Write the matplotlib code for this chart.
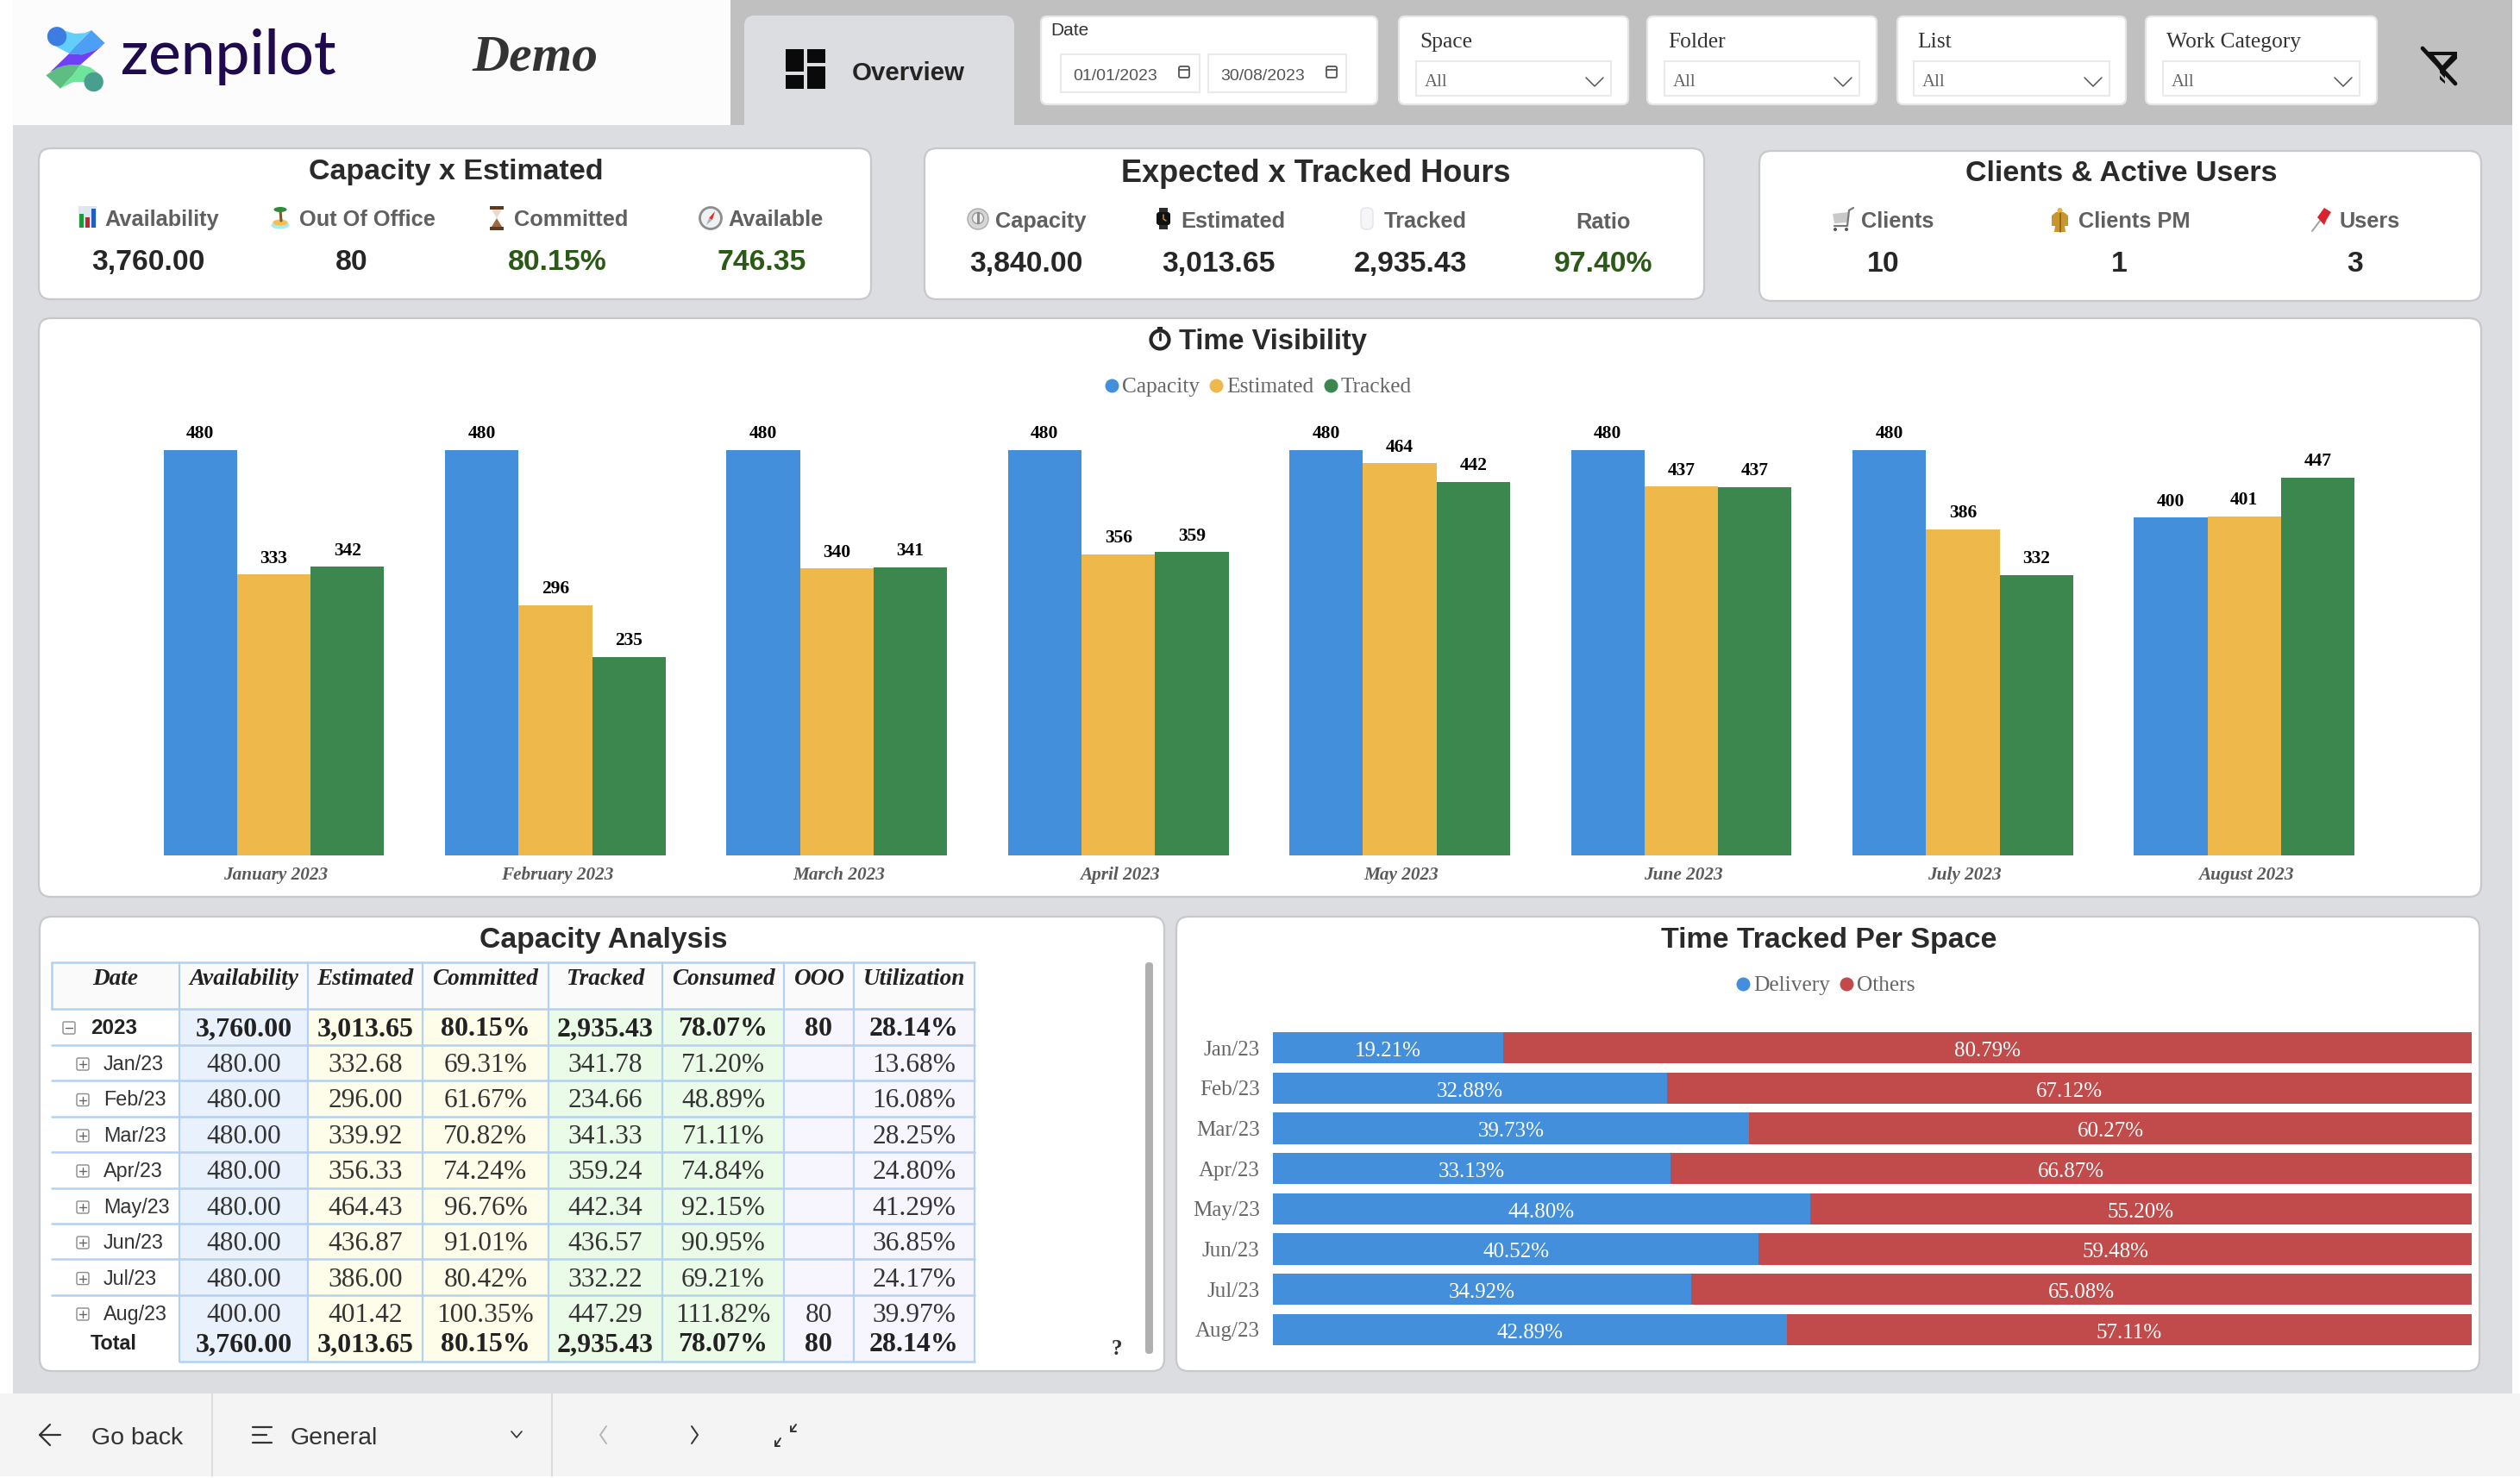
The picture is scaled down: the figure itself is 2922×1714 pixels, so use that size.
import matplotlib
matplotlib.use("Agg")
import matplotlib.pyplot as plt
from matplotlib.patches import FancyBboxPatch, Rectangle, Circle, Polygon, Ellipse
from matplotlib.lines import Line2D
from matplotlib.transforms import ScaledTranslation

W, H = 2922, 1714
SERIF = "Liberation Serif"
SANS = "Liberation Sans"

# ---------- data ----------
months_long = ["January 2023", "February 2023", "March 2023", "April 2023",
               "May 2023", "June 2023", "July 2023", "August 2023"]
months_short = ["Jan/23", "Feb/23", "Mar/23", "Apr/23", "May/23", "Jun/23", "Jul/23", "Aug/23"]
capacity = [480.00, 480.00, 480.00, 480.00, 480.00, 480.00, 480.00, 400.00]
estimated = [332.68, 296.00, 339.92, 356.33, 464.43, 436.87, 386.00, 401.42]
tracked = [341.78, 234.66, 341.33, 359.24, 442.34, 436.57, 332.22, 447.29]
delivery_pct = [19.21, 32.88, 39.73, 33.13, 44.80, 40.52, 34.92, 42.89]
others_pct = [80.79, 67.12, 60.27, 66.87, 55.20, 59.48, 65.08, 57.11]

table_head = ["Date", "Availability", "Estimated", "Committed", "Tracked", "Consumed", "OOO", "Utilization"]
tbl_avail = ["480.00"] * 7 + ["400.00"]
tbl_est = ["332.68", "296.00", "339.92", "356.33", "464.43", "436.87", "386.00", "401.42"]
tbl_comm = ["69.31%", "61.67%", "70.82%", "74.24%", "96.76%", "91.01%", "80.42%", "100.35%"]
tbl_track = ["341.78", "234.66", "341.33", "359.24", "442.34", "436.57", "332.22", "447.29"]
tbl_cons = ["71.20%", "48.89%", "71.11%", "74.84%", "92.15%", "90.95%", "69.21%", "111.82%"]
tbl_ooo = ["", "", "", "", "", "", "", "80"]
tbl_util = ["13.68%", "16.08%", "28.25%", "24.80%", "41.29%", "36.85%", "24.17%", "39.97%"]
tbl_total = ["3,760.00", "3,013.65", "80.15%", "2,935.43", "78.07%", "80", "28.14%"]

# ---------- colours ----------
BLUE, ORANGE, GREEN, RED = "#438fdc", "#efb84b", "#3b874d", "#c14a4a"
BG = "#dcdde0"
TITLE = "#2a2a2a"
LABEL = "#606060"
VALUE = "#262626"
POS = "#2b5a16"
GRID = "#b3d1f3"

fig = plt.figure(figsize=(W / 100, H / 100), dpi=100, facecolor="white")
ov = fig.add_axes([0, 0, 1, 1], zorder=0)
ov.set_xlim(0, W)
ov.set_ylim(H, 0)
ov.axis("off")


def T(x, y, s, size, color="#222222", ha="center", family=SANS, weight="normal", style="normal", z=8):
    return ov.text(x, y, s, fontsize=size, color=color, ha=ha, va="center_baseline",
                   family=family, weight=weight, style=style, zorder=z)


def rect(x0, y0, x1, y1, fc, z=1, ec="none", lw=0):
    ov.add_patch(Rectangle((x0, y0), x1 - x0, y1 - y0, fc=fc, ec=ec, lw=lw, zorder=z))


def card(x0, y0, x1, y1, r=14, fc="white", ec="#c8c8ca", lw=1.6, z=2):
    ov.add_patch(FancyBboxPatch((x0, y0), x1 - x0, y1 - y0, boxstyle=f"round,pad=0,rounding_size={r}",
                                fc=fc, ec=ec, lw=lw, zorder=z))


def line(xs, ys, c="#333333", lw=1.5, z=6):
    ov.add_line(Line2D(xs, ys, color=c, lw=lw, zorder=z, solid_capstyle="round"))


def poly(pts, fc, z=6, alpha=1.0):
    ov.add_patch(Polygon(pts, closed=True, fc=fc, ec="none", zorder=z, alpha=alpha))


# ---------- page frame ----------
rect(15, 145, 2913, 1616, BG, z=0.5)
rect(15, 0, 847, 145, "#fcfcfc", z=1)
rect(847, 0, 2913, 145, "#c0c0c0", z=1)
ov.add_patch(FancyBboxPatch((863, 18), 313, 147, boxstyle="round,pad=0,rounding_size=12", fc=BG, ec="none", zorder=1.5))
rect(0, 1616, W, 1712, "#f4f4f4", z=1)
line([245.5, 245.5], [1616, 1712], "#d8d8d8", 1.2)
line([640, 640], [1616, 1712], "#d8d8d8", 1.2)

# ---------- logo ----------
def lg(pts):
    return [(30 + a / 3, 15 + b / 3) for a, b in pts]

poly(lg([(108, 50), (135, 62), (170, 72), (205, 70), (228, 60), (180, 108), (155, 143), (110, 120), (85, 100)]), "#62cffb")
poly(lg([(228, 60), (275, 105), (240, 130), (195, 145), (150, 142), (180, 108)]), "#4d9ff6", z=6.1)
poly(lg([(150, 142), (195, 145), (240, 130), (272, 108), (190, 180), (130, 185), (85, 205)]), "#7040f5", z=6.2)
poly(lg([(70, 217), (110, 190), (150, 180), (190, 180), (165, 215), (120, 263)]), "#5dbd83", z=6.3)
poly(lg([(190, 180), (225, 190), (255, 212), (240, 250), (205, 240), (165, 240), (120, 263), (165, 215)]), "#6ee59a", z=6.3)
ov.add_patch(Circle((30 + 108 / 3, 15 + 82 / 3), 11.2, fc="#3b7de0", ec="none", zorder=6.5))
ov.add_patch(Circle((30 + 236 / 3, 15 + 240 / 3), 11.2, fc="#47a08e", ec="none", zorder=6.5))
ov.text(140, 86, "zenpilot", fontsize=51, color="#1f0a4d", family="Lato", weight="medium", ha="left", va="baseline", zorder=7)
T(620, 61, "Demo", 43, "#333333", family=SERIF, style="italic", weight="bold")

# ---------- overview tab ----------
for x0, y0, x1, y1 in [(911, 57, 932, 83), (911, 87, 932, 103), (936, 57, 957, 73), (936, 77, 957, 103)]:
    rect(x0, y0, x1, y1, "#0a0a0a", z=6)
T(988, 82, "Overview", 21.2, "#252423", ha="left", weight="bold")

# ---------- slicers ----------
card(1207, 19, 1597, 121, r=7, ec="#e6e6e6")
T(1218, 33, "Date", 15, "#333333", ha="left")
for x0, x1, s, icx in [(1230, 1391, "01/01/2023", 1373), (1401, 1561, "30/08/2023", 1544)]:
    ov.add_patch(Rectangle((x0, 63), x1 - x0, 44, fc="white", ec="#eaeaea", lw=1.5, zorder=3))
    T(x0 + 14, 86, s, 14, "#555555", ha="left")
    ov.add_patch(FancyBboxPatch((icx - 6, 77), 12, 13, boxstyle="round,pad=0,rounding_size=2", fc="white", ec="#555555", lw=1.3, zorder=6))
    line([icx - 6, icx + 6], [81, 81], "#555555", 1.3)

slicers = [("Space", 1622, 1888, 1642, 1868), ("Folder", 1910, 2176, 1930, 2156),
           ("List", 2200, 2465, 2219, 2446), ("Work Category", 2488, 2756, 2508, 2736)]
for name, c0, c1, b0, b1 in slicers:
    card(c0, 19, c1, 121, r=7, ec="#e6e6e6")
    T(b0 + 4, 46, name, 18.4, "#333333", ha="left", family=SERIF)
    ov.add_patch(Rectangle((b0, 71), b1 - b0, 40, fc="white", ec="#eaeaea", lw=1.5, zorder=3))
    T(b0 + 10, 93, "All", 15, "#666666", ha="left", family=SERIF)
    line([b1 - 29, b1 - 19, b1 - 9], [90, 100, 90], "#555555", 1.1)

# clear-filter icon
poly([(2815, 60), (2849, 60), (2849, 68), (2835, 82), (2835, 97), (2829, 92), (2829, 82)], "#111111")
poly([(2822, 64), (2843, 64), (2832, 76)], "#c0c0c0", z=6.1)
line([2809, 2847], [56, 97], "#111111", 3.4, z=6.2)
line([2805, 2843], [60, 101], "#c0c0c0", 1.6, z=6.2)

# ---------- KPI icons ----------
def ic_chart(x, y):
    rect(x, y, x + 21, y + 25, "#dfe6ef", z=6)
    rect(x + 1, y + 9, x + 6, y + 25, "#1d9a3a", z=6.1)
    rect(x + 8, y + 13, x + 13, y + 25, "#c8232c", z=6.1)
    rect(x + 15, y + 3, x + 20, y + 25, "#1f5fc4", z=6.1)

def ic_island(x, y):
    ov.add_patch(Ellipse((x + 10, y + 22), 21, 9, fc="#a7ecef", ec="none", zorder=6))
    ov.add_patch(Ellipse((x + 10, y + 19), 17, 7, fc="#f6bd55", ec="none", zorder=6.1))
    line([x + 10, x + 11], [y + 5, y + 17], "#7a5a2a", 2.2, z=6.2)
    ov.add_patch(Ellipse((x + 10, y + 4), 15, 6, fc="#2f8a3a", ec="none", zorder=6.3))

def ic_hourglass(x, y):
    rect(x + 2, y, x + 18, y + 4, "#5c3a22", z=6.2)
    rect(x + 2, y + 24, x + 18, y + 28, "#5c3a22", z=6.2)
    poly([(x + 4, y + 4), (x + 16, y + 4), (x + 10, y + 14)], "#e6dccb")
    poly([(x + 10, y + 14), (x + 16, y + 24), (x + 4, y + 24)], "#9a6a42")

def ic_compass(x, y):
    ov.add_patch(Circle((x + 13, y + 14), 12.5, fc="#eef1f4", ec="#8c8c8c", lw=2, zorder=6))
    poly([(x + 18, y + 6), (x + 15, y + 16), (x + 11, y + 14)], "#d9302a", z=6.2)
    poly([(x + 8, y + 22), (x + 11, y + 14), (x + 15, y + 16)], "#b0b0b0", z=6.2)

def ic_timer(x, y):
    ov.add_patch(Circle((x + 12, y + 13), 12, fc="#d6d6d6", ec="#aaaaaa", lw=1, zorder=6))
    ov.add_patch(Circle((x + 12, y + 12), 6.5, fc="#efefef", ec="#9a9a9a", lw=1, zorder=6.1))
    rect(x + 10.5, y + 5, x + 13.5, y + 19, "#8a8a8a", z=6.2)

def ic_watch(x, y):
    rect(x + 3, y, x + 13, y + 25, "#2c2c2c", z=6)
    ov.add_patch(FancyBboxPatch((x, y + 5), 16, 15, boxstyle="round,pad=0,rounding_size=3", fc="#111111", ec="none", zorder=6.1))
    line([x + 8, x + 8, x + 11], [y + 8, y + 13, y + 15], "#d99a2b", 1, z=6.2)

def ic_mouse(x, y):
    ov.add_patch(FancyBboxPatch((x, y), 14, 25, boxstyle="round,pad=0,rounding_size=6", fc="#f6f6f9", ec="#e3e4ea", lw=1, zorder=6))

def ic_cart(x, y):
    poly([(x + 1, y + 7), (x + 19, y + 5), (x + 18, y + 17), (x + 3, y + 18)], "#c9c9c9")
    line([x + 25, x + 20, x + 18, x + 3], [y, y + 3, y + 21, y + 21], "#777777", 1.6)
    ov.add_patch(Circle((x + 4, y + 25), 2, fc="#555555", ec="none", zorder=6.2))
    ov.add_patch(Circle((x + 17, y + 25), 2, fc="#555555", ec="none", zorder=6.2))

def ic_robe(x, y):
    poly([(x + 5, y + 5), (x + 14, y + 5), (x + 19, y + 9), (x + 19, y + 21), (x + 15, y + 21), (x + 16, y + 28),
          (x + 3, y + 28), (x + 4, y + 21), (x + 0, y + 21), (x + 0, y + 9)], "#c9962e")
    ov.add_patch(Circle((x + 9.5, y + 3), 3, fc="#e4b34b", ec="none", zorder=6.1))
    line([x + 9.5, x + 9.5], [y + 6, y + 28], "#8a6118", 1.2, z=6.2)

def ic_pin(x, y):
    line([x, x + 9], [y + 27, y + 15], "#a0a0a0", 1.4)
    poly([(x + 6, y + 11), (x + 14, y), (x + 22, y + 5), (x + 17, y + 13), (x + 14, y + 20)], "#d9232e", z=6.2)

def ic_stopwatch(x, y):
    ov.add_patch(Circle((x, y + 1), 10.5, fc="white", ec="#262626", lw=3, zorder=8))
    rect(x - 3, y - 14, x + 3, y - 10, "#262626", z=8)
    line([x, x], [y - 6, y + 1], "#262626", 2, z=8.1)

# ---------- KPI cards ----------
card(45, 172, 1010, 347)
card(1072, 172, 1976, 347)
card(2040, 175, 2877, 349)
T(529, 196, "Capacity x Estimated", 24.5, TITLE, weight="bold")
T(1526, 197, "Expected x Tracked Hours", 26, TITLE, weight="bold")
T(2460, 198, "Clients & Active Users", 24.5, TITLE, weight="bold")

LS = 18.3
ic_chart(91, 239)
T(121, 252, "Availability", LS, LABEL, ha="left", weight="bold")
T(172, 301, "3,760.00", 24.3, VALUE, weight="bold")
ic_island(315, 239)
T(347, 252, "Out Of Office", LS, LABEL, ha="left", weight="bold")
T(408, 301, "80", 24.3, VALUE, weight="bold")
ic_hourglass(566, 239)
T(596, 252, "Committed", LS, LABEL, ha="left", weight="bold")
T(646, 301, "80.15%", 24.3, POS, weight="bold")
ic_compass(811, 239)
T(844, 252, "Available", LS, LABEL, ha="left", weight="bold")
T(883, 301, "746.35", 24.3, POS, weight="bold")

ic_timer(1122, 241)
T(1154, 254, "Capacity", LS, LABEL, ha="left", weight="bold")
T(1190, 303, "3,840.00", 24.3, VALUE, weight="bold")
ic_watch(1341, 241)
T(1369, 254, "Estimated", LS, LABEL, ha="left", weight="bold")
T(1413, 303, "3,013.65", 24.3, VALUE, weight="bold")
ic_mouse(1578, 241)
T(1605, 254, "Tracked", LS, LABEL, ha="left", weight="bold")
T(1636, 303, "2,935.43", 24.3, VALUE, weight="bold")
T(1859, 255, "Ratio", LS, LABEL, weight="bold")
T(1859, 303, "97.40%", 24.3, POS, weight="bold")

ic_cart(2124, 241)
T(2158, 254, "Clients", LS, LABEL, ha="left", weight="bold")
T(2184, 303, "10", 24.3, VALUE, weight="bold")
ic_robe(2379, 241)
T(2409.5, 254, "Clients PM", LS, LABEL, ha="left", weight="bold")
T(2457, 303, "1", 24.3, VALUE, weight="bold")
ic_pin(2681, 241)
T(2712, 254, "Users", LS, LABEL, ha="left", weight="bold")
T(2731, 303, "3", 24.3, VALUE, weight="bold")

# ---------- Time Visibility ----------
card(45, 369, 2877, 1040)
card(46, 1063, 1350, 1590)
card(1364, 1063, 2875, 1590)
ic_stopwatch(1345, 393)
T(1367, 393, "Time Visibility", 23.5, TITLE, ha="left", weight="bold")


def px_axes(x0, y0, x1, y1):
    ax = fig.add_axes([x0 / W, 1 - y1 / H, (x1 - x0) / W, (y1 - y0) / H], zorder=3)
    ax.patch.set_alpha(0)
    for s in ax.spines.values():
        s.set_visible(False)
    return ax


def dot_legend(items, anchor):
    handles = [Line2D([], [], ls="", marker="o", ms=11.5, mfc=c, mec=c, mew=0, label=n) for n, c in items]
    fig.legend(handles=handles, ncol=len(items), loc="center", bbox_to_anchor=anchor,
               bbox_transform=ov.transData, frameon=False,
               prop={"family": SERIF, "size": 18.3}, labelcolor="#666666",
               handlelength=0.6, handletextpad=0.18, columnspacing=0.45, borderpad=0, borderaxespad=0)


PITCH = 326.4
ax1 = px_axes(154.3, 470, 154.3 + 8 * PITCH, 991.7)
series = [("Capacity", capacity, BLUE), ("Estimated", estimated, ORANGE), ("Tracked", tracked, GREEN)]
bw = 85.3 / PITCH
for k, (name, vals, col) in enumerate(series):
    offs = [i + (k - 1) * bw for i in range(len(vals))]
    bars = ax1.bar(offs, vals, width=bw, color=col, label=name, linewidth=0)
    for b, v in zip(bars, vals):
        ax1.annotate(f"{v:.0f}", (b.get_x() + b.get_width() / 2, v), xytext=(0, 15.2), textcoords="offset points",
                     ha="center", va="center_baseline", fontsize=15.5, weight="bold", family=SERIF, color="black")
ax1.set_xlim(-0.5, 7.5)
ax1.set_ylim(0, 533.2)
ax1.set_yticks([])
ax1.set_xticks(range(8))
ax1.set_xticklabels(months_long, family=SERIF, weight="bold", style="italic", fontsize=15.3, color="#5a5a5a")
ax1.tick_params(axis="x", length=0, pad=9.4)
for lab in ax1.get_xticklabels():
    lab.set_transform(lab.get_transform() + ScaledTranslation(2 / 100, 0, fig.dpi_scale_trans))
dot_legend([(n, c) for n, _, c in series], (1459, 449))

# ---------- Time Tracked Per Space ----------
T(2121, 1087, "Time Tracked Per Space", 24.4, TITLE, weight="bold")
ax2 = px_axes(1476, 1192, 2866, 1565)
ypos = list(range(8))
ax2.barh(ypos, delivery_pct, height=0.78, color=BLUE, linewidth=0, label="Delivery")
ax2.barh(ypos, others_pct, left=delivery_pct, height=0.78, color=RED, linewidth=0, label="Others")
for i, (d, o) in enumerate(zip(delivery_pct, others_pct)):
    ax2.text(d / 2, i + 0.03, f"{d:.2f}%", color="white", family=SERIF, fontsize=18, ha="center", va="center_baseline")
    ax2.text(d + o / 2, i + 0.03, f"{o:.2f}%", color="white", family=SERIF, fontsize=18, ha="center", va="center_baseline")
ax2.set_xlim(0, 100)
ax2.set_ylim(7.5, -0.5)
ax2.set_xticks([])
ax2.set_yticks(ypos)
ax2.set_yticklabels(months_short, family=SERIF, fontsize=18, color="#666666")
ax2.tick_params(axis="y", length=0, pad=11)
dot_legend([("Delivery", BLUE), ("Others", RED)], (2117, 1143))

# ---------- Capacity Analysis table ----------
T(700, 1086.5, "Capacity Analysis", 24.3, TITLE, weight="bold")
col_x = [60, 208, 357, 490, 636, 768, 909, 990, 1130]
col_fill = ["white", "#e9f1fd", "#fdfde9", "#fdfde9", "#eafbe7", "#eafbe7", "#f7f5fe", "#f7f5fe"]
row_lines = [1170, 1212, 1253, 1295, 1336, 1378, 1419, 1460, 1502, 1578.6]
row_text_y = [1232, 1273.5, 1315, 1356, 1398, 1439, 1480.6, 1522]
top_y, body_top, bottom_y = 1116, 1170, 1578.6

rect(col_x[0], top_y, col_x[-1], body_top, "#fafafa", z=3)
for j in range(1, 8):
    rect(col_x[j], body_top, col_x[j + 1], bottom_y, col_fill[j], z=3)
for yy in row_lines[:-1]:
    line([col_x[0], col_x[-1]], [yy, yy], GRID, 1.8, z=4)
line([col_x[1], col_x[-1]], [bottom_y, bottom_y], GRID, 1.8, z=4)
line([col_x[0], col_x[-1]], [top_y, top_y], GRID, 1.8, z=4)
line([col_x[0], col_x[0]], [top_y, body_top], GRID, 1.8, z=4)
for j in range(1, 9):
    line([col_x[j], col_x[j]], [top_y, bottom_y], GRID, 1.6, z=4)

centers = [(col_x[j] + col_x[j + 1]) / 2 for j in range(8)]
for j, h in enumerate(table_head):
    T(centers[j], 1133, h, 19.6, "#222222", family=SERIF, weight="bold", style="italic")


def expander(x, y, minus=False):
    ov.add_patch(FancyBboxPatch((x - 7, y - 7), 14, 14, boxstyle="round,pad=0,rounding_size=2", fc="white", ec="#8a8a8a", lw=1, zorder=6))
    line([x - 4, x + 4], [y, y], "#666666", 1, z=6.1)
    if not minus:
        line([x, x], [y - 4, y + 4], "#666666", 1, z=6.1)


expander(80, 1192, minus=True)
T(105, 1190, "2023", 17.5, "#222222", ha="left", weight="bold")
T(105, 1556, "Total", 16.8, "#222222", ha="left", weight="bold")
for j, v in enumerate(tbl_total):
    T(centers[j + 1], 1190, v, 23, "#222222", family=SERIF, weight="bold")
    T(centers[j + 1], 1556, v, 23, "#222222", family=SERIF, weight="bold")
columns = [tbl_avail, tbl_est, tbl_comm, tbl_track, tbl_cons, tbl_ooo, tbl_util]
for i, m in enumerate(months_short):
    expander(96, row_text_y[i] + 2)
    T(120, row_text_y[i], m, 16.8, "#333333", ha="left")
    for j, col in enumerate(columns):
        if col[i]:
            T(centers[j + 1], row_text_y[i], col[i], 22.6, "#333333", family=SERIF)

ov.add_patch(FancyBboxPatch((1328, 1116), 9, 454, boxstyle="round,pad=0,rounding_size=4", fc="#b0b0b0", ec="none", zorder=6))
T(1295, 1562, "?", 18, "#333333", family=SERIF, weight="bold")

# ---------- footer ----------
line([70, 46, 58], [1664, 1664, 1652], "#333333", 1.6)
line([46, 58], [1664, 1676], "#333333", 1.6)
T(106.5, 1665, "Go back", 20.5, "#333333", ha="left")
for yy, xe in [(1655, 315), (1664, 309), (1673, 315)]:
    line([293, xe], [yy, yy], "#333333", 1.6)
T(337, 1665, "General", 20.5, "#333333", ha="left")
line([593, 599, 605], [1660, 1667, 1660], "#333333", 1.2)
line([703, 696, 703], [1654, 1664, 1674], "#b5b5b5", 1.4)
line([802, 809, 802], [1654, 1664, 1674], "#333333", 1.4)
line([905, 899], [1668, 1677], "#333333", 1.4)
line([899, 899, 904], [1671, 1677, 1677], "#333333", 1.4)
line([917, 923], [1660, 1652], "#333333", 1.4)
line([917, 917, 923], [1654, 1660, 1660], "#333333", 1.4)

fig.savefig("out.png", dpi=100, facecolor="white")
